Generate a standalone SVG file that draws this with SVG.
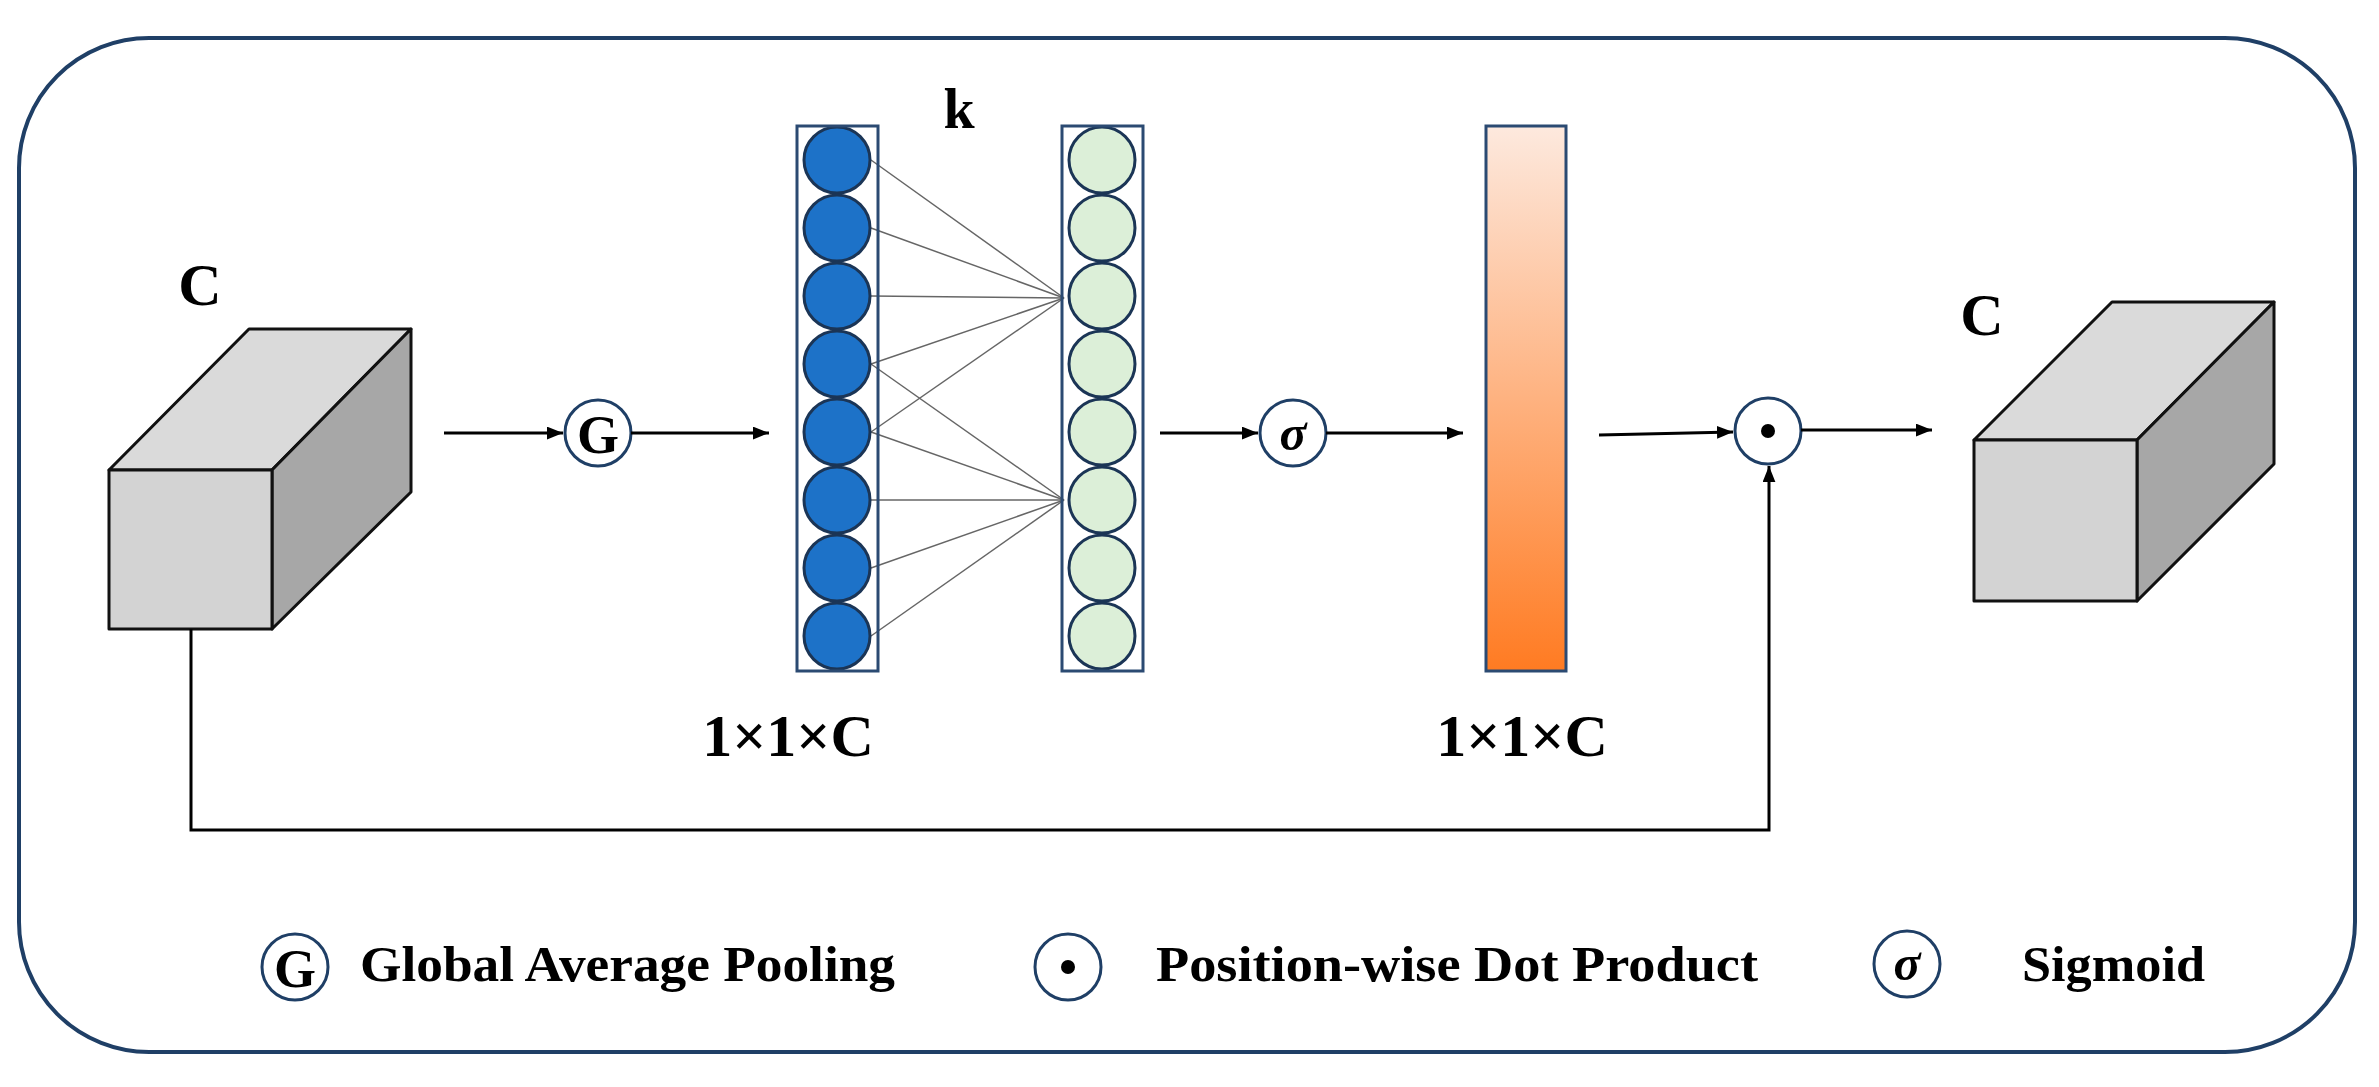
<svg xmlns="http://www.w3.org/2000/svg" width="2379" height="1087" viewBox="0 0 2379 1087">
<defs>
<linearGradient id="og" x1="0" y1="0" x2="0" y2="1"><stop offset="0" stop-color="#fde9de"/><stop offset="1" stop-color="#ff7b22"/></linearGradient>
<marker id="ah" markerWidth="10" markerHeight="8" refX="9" refY="4" orient="auto" markerUnits="userSpaceOnUse"><path d="M0,0 L10,4 L0,8 z" fill="#000" transform="scale(1.6) translate(-4,-1.5)"/></marker>
<marker id="a" viewBox="0 0 10 8" refX="10" refY="4" markerWidth="16" markerHeight="13" orient="auto" markerUnits="userSpaceOnUse"><path d="M0,0 L10,4 L0,8 z" fill="#000"/></marker>
<style>
.t{font-family:"Liberation Serif",serif;font-weight:bold;fill:#000}
.op{fill:#fff;stroke:#1f3f66;stroke-width:3}
.ln{stroke:#000;stroke-width:3;fill:none}
.bl{fill:#1d72c8;stroke:#1b3556;stroke-width:3}
.gr{fill:#dcefd8;stroke:#1b3556;stroke-width:3}
.col{fill:none;stroke:#2b4a72;stroke-width:3}
.fc{stroke:#111;stroke-width:3;stroke-linejoin:round}
.w{stroke:#666;stroke-width:1.5}
</style>
</defs>
<rect width="2379" height="1087" fill="#fff"/>
<rect x="19" y="38" width="2336" height="1014" rx="130" ry="130" fill="none" stroke="#1f3f66" stroke-width="4"/>
<g id="cube1">
<polygon class="fc" points="109,470 249,329 411,329 272,470" fill="#dadada"/>
<polygon class="fc" points="272,470 411,329 411,492 272,629" fill="#a7a7a7"/>
<rect class="fc" x="109" y="470" width="163" height="159" fill="#d3d3d3"/>
<text class="t" x="200" y="305" font-size="60" text-anchor="middle">C</text>
</g>
<g id="gap"><circle class="op" cx="598" cy="433" r="33"/><text class="t" x="598" y="453" font-size="54" text-anchor="middle">G</text></g>
<g id="fc">
<g class="w">
<line x1="871" y1="160" x2="1064" y2="298"/><line x1="871" y1="228" x2="1064" y2="298"/><line x1="871" y1="296" x2="1064" y2="298"/><line x1="871" y1="364" x2="1064" y2="298"/><line x1="871" y1="432" x2="1064" y2="298"/>
<line x1="871" y1="364" x2="1064" y2="500"/><line x1="871" y1="432" x2="1064" y2="500"/><line x1="871" y1="500" x2="1064" y2="500"/><line x1="871" y1="568" x2="1064" y2="500"/><line x1="871" y1="636" x2="1064" y2="500"/>
</g>
<g id="blue">
<circle class="bl" cx="837" cy="160" r="33"/><circle class="bl" cx="837" cy="228" r="33"/><circle class="bl" cx="837" cy="296" r="33"/><circle class="bl" cx="837" cy="364" r="33"/><circle class="bl" cx="837" cy="432" r="33"/><circle class="bl" cx="837" cy="500" r="33"/><circle class="bl" cx="837" cy="568" r="33"/><circle class="bl" cx="837" cy="636" r="33"/>
<rect class="col" x="797" y="126" width="81" height="545"/>
</g>
<g id="green">
<circle class="gr" cx="1102" cy="160" r="33"/><circle class="gr" cx="1102" cy="228" r="33"/><circle class="gr" cx="1102" cy="296" r="33"/><circle class="gr" cx="1102" cy="364" r="33"/><circle class="gr" cx="1102" cy="432" r="33"/><circle class="gr" cx="1102" cy="500" r="33"/><circle class="gr" cx="1102" cy="568" r="33"/><circle class="gr" cx="1102" cy="636" r="33"/>
<rect class="col" x="1062" y="126" width="81" height="545"/>
</g>
<text class="t" x="959" y="128" font-size="56" text-anchor="middle">k</text>
<text class="t" x="788" y="756" font-size="60" text-anchor="middle">1×1×C</text>
</g>
<g id="sig"><circle class="op" cx="1293" cy="433" r="33"/><text class="t" x="1293" y="450" font-size="50" font-style="italic" text-anchor="middle">σ</text></g>
<g id="weights">
<rect x="1486" y="126" width="80" height="545" fill="url(#og)" stroke="#2b4a72" stroke-width="3"/>
<text class="t" x="1522" y="756" font-size="60" text-anchor="middle">1×1×C</text>
</g>
<g id="dot"><circle class="op" cx="1768" cy="431" r="33"/><circle cx="1768" cy="431" r="7" fill="#000"/></g>
<g id="cube2">
<polygon class="fc" points="1974,440 2112,302 2274,302 2137,440" fill="#dadada"/>
<polygon class="fc" points="2137,440 2274,302 2274,464 2137,601" fill="#a7a7a7"/>
<rect class="fc" x="1974" y="440" width="163" height="161" fill="#d3d3d3"/>
<text class="t" x="1982" y="335" font-size="60" text-anchor="middle">C</text>
</g>
<g id="connectors">
<line class="ln" x1="444" y1="433" x2="563" y2="433" marker-end="url(#a)"/>
<line class="ln" x1="631" y1="433" x2="769" y2="433" marker-end="url(#a)"/>
<line class="ln" x1="1160" y1="433" x2="1258" y2="433" marker-end="url(#a)"/>
<line class="ln" x1="1326" y1="433" x2="1463" y2="433" marker-end="url(#a)"/>
<line class="ln" x1="1599" y1="435" x2="1733" y2="432" marker-end="url(#a)"/>
<line class="ln" x1="1801" y1="430" x2="1932" y2="430" marker-end="url(#a)"/>
<polyline class="ln" points="191,629 191,830 1769,830 1769,466" marker-end="url(#a)"/>
</g>
<g id="legend">
<circle class="op" cx="295" cy="967" r="33"/><text class="t" x="295" y="987" font-size="54" text-anchor="middle">G</text>
<text class="t" x="360" y="981" font-size="50" textLength="535" lengthAdjust="spacingAndGlyphs">Global Average Pooling</text>
<circle class="op" cx="1068" cy="967" r="33"/><circle cx="1068" cy="967" r="7" fill="#000"/>
<text class="t" x="1156" y="981" font-size="50" textLength="602" lengthAdjust="spacingAndGlyphs">Position-wise Dot Product</text>
<circle class="op" cx="1907" cy="964" r="33"/><text class="t" x="1907" y="980" font-size="50" font-style="italic" text-anchor="middle">σ</text>
<text class="t" x="2022" y="981" font-size="50" textLength="183" lengthAdjust="spacingAndGlyphs">Sigmoid</text>
</g>
</svg>
